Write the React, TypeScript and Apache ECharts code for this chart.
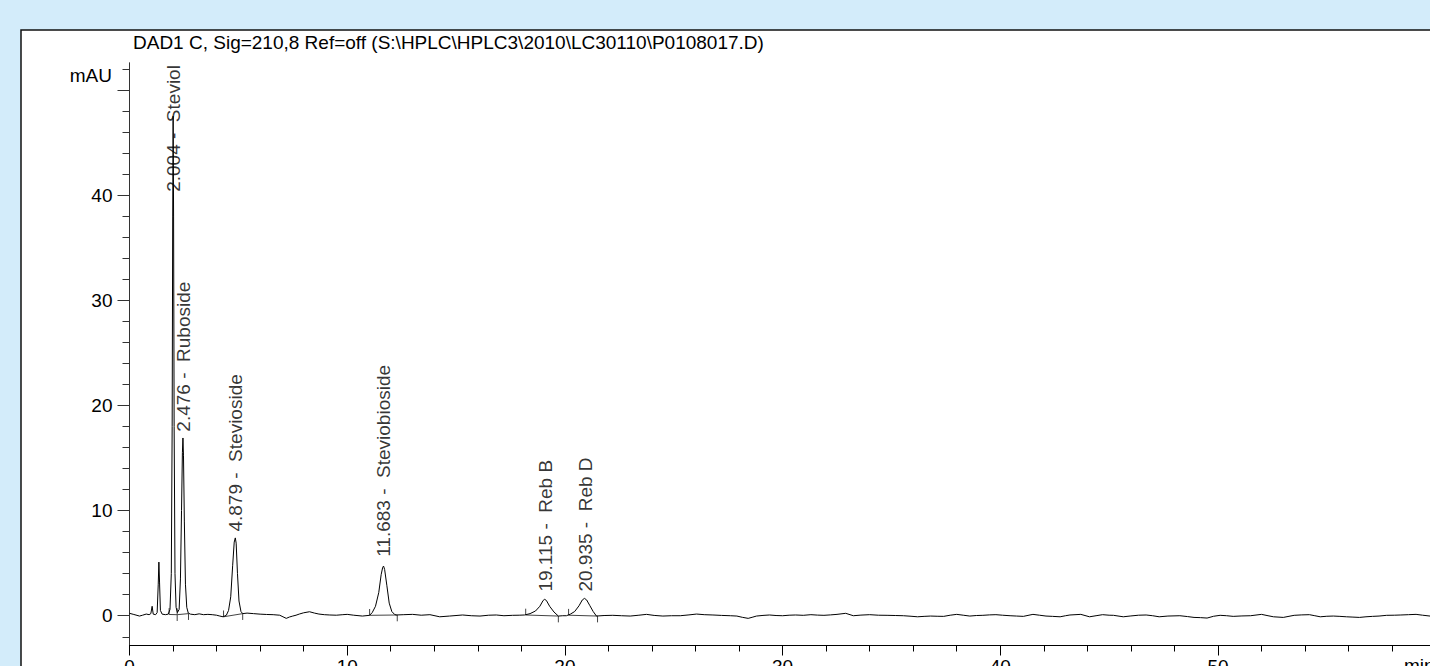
import React, { useEffect, useRef } from "react";
import * as echarts from "echarts";

// ---- Data (time in min, signal in mAU) ----
const earlySignal: [number, number][] = [
  [0, 0.23], [0.2, 0.12], [0.46, -0.03], [0.6, 0.05], [0.77, 0.16], [0.9, 0.1], [0.98, 0.2],
  [1.04, 0.9], [1.09, 0.15], [1.2, 0.1], [1.27, 0.3], [1.32, 3.0], [1.35, 5.1], [1.38, 3.2],
  [1.42, 0.5], [1.5, 0.15], [1.65, 0.1], [1.78, 0.15], [1.86, 0.6], [1.92, 4], [1.96, 18],
  [1.985, 38], [2.004, 47.5], [2.025, 38], [2.05, 18], [2.09, 4], [2.14, 0.8], [2.2, 0.3],
  [2.28, 0.6], [2.34, 3.5], [2.39, 10], [2.43, 15.5], [2.455, 16.9], [2.48, 15.2], [2.52, 9],
  [2.57, 3], [2.63, 0.8], [2.7, 0.25], [2.8, 0.15], [3.0, 0.1], [3.2, 0.18], [3.4, 0.1],
  [3.6, 0.13], [3.8, 0.1], [4.0, 0.05], [4.15, -0.03], [4.3, -0.1], [4.45, 0.05], [4.55, 0.5],
  [4.65, 1.8], [4.74, 4.8], [4.81, 7.0], [4.86, 7.4], [4.9, 6.9], [4.96, 4.0], [5.03, 1.4],
  [5.12, 0.4], [5.2, 0.2], [5.4, 0.25], [5.7, 0.2], [6.0, 0.15],
];

const midSignal: [number, number][] = [
  [6.3, 0.12], [6.6, 0.1], [6.9, 0.05], [7.05, -0.1], [7.2, -0.25], [7.35, -0.12], [7.5, -0.03],
  [7.65, 0.05], [7.8, 0.16], [8.0, 0.28], [8.27, 0.38], [8.5, 0.25], [8.7, 0.16], [8.95, 0.1],
  [9.2, 0.07], [9.5, 0.05], [9.8, 0.1], [10.0, 0.13], [10.3, 0.05], [10.7, -0.03], [11.03, 0.04],
  [11.15, 0.3], [11.3, 0.9], [11.45, 2.2], [11.56, 3.9], [11.63, 4.6], [11.67, 4.72], [11.72, 4.4],
  [11.82, 2.9], [11.93, 1.2], [12.05, 0.4], [12.18, 0.12], [12.25, 0.07], [12.6, 0.1], [13.0, 0.13],
  [13.4, 0.05], [13.8, 0.1], [14.25, -0.1], [14.7, -0.03], [15.3, 0.07], [15.7, 0.0], [16.1, -0.03],
  [16.5, 0.05], [16.85, 0.07], [17.2, 0.0], [17.6, 0.04], [17.9, 0.05], [18.15, 0.07], [18.4, 0.2],
  [18.65, 0.45], [18.85, 0.9], [19.0, 1.45], [19.07, 1.56], [19.15, 1.45], [19.3, 0.9], [19.5, 0.35],
  [19.7, -0.03], [19.9, 0.0], [20.07, 0.0], [20.25, 0.15], [20.45, 0.4], [20.65, 0.95], [20.8, 1.5],
  [20.9, 1.65], [21.0, 1.5], [21.15, 0.95], [21.3, 0.4], [21.45, -0.03], [21.8, 0.02], [22.2, 0.04],
  [22.6, 0.0], [23.0, -0.03], [23.4, 0.05], [23.75, 0.13], [24.1, 0.03], [24.5, -0.03], [24.9, 0.0],
  [25.3, 0.0], [25.7, 0.08], [26.05, 0.16], [26.4, 0.1], [26.8, 0.07], [27.2, 0.03], [27.6, 0.0],
];

const lateSignal: [number, number][] = [
  [27.9, -0.03], [28.15, -0.15], [28.42, -0.25], [28.6, -0.15], [28.8, -0.03], [29.1, 0.03],
  [29.4, 0.07], [29.7, 0.02], [30.0, 0.0], [30.3, 0.05], [30.6, 0.07], [30.95, 0.04], [31.3, 0.1],
  [31.6, 0.06], [31.9, 0.04], [32.2, 0.08], [32.5, 0.13], [32.9, 0.23], [33.25, 0.0], [33.6, 0.06],
  [34.0, 0.1], [34.4, 0.05], [34.8, 0.04], [35.2, 0.02], [35.55, 0.0], [35.9, -0.05], [36.2, -0.1],
  [36.5, -0.06], [36.8, -0.03], [37.1, -0.05], [37.4, -0.06], [37.7, 0.05], [38.0, 0.13], [38.3, 0.05],
  [38.6, -0.03], [38.9, 0.02], [39.2, 0.04], [39.5, 0.08], [39.8, 0.1], [40.1, 0.05], [40.45, 0.0],
  [40.75, -0.03], [41.06, -0.06], [41.5, 0.13], [41.8, 0.05], [42.1, -0.03], [42.4, -0.06],
  [42.75, -0.1], [43.0, 0.0], [43.2, 0.07], [43.7, 0.13], [44.1, -0.1], [44.4, 0.0], [44.7, 0.1],
  [45.0, 0.05], [45.2, 0.04], [45.65, -0.1], [46.0, -0.02], [46.35, 0.05], [46.7, 0.07], [47.0, 0.0],
  [47.3, -0.1], [47.7, -0.03], [48.25, 0.0], [48.6, -0.08], [48.9, -0.16], [49.2, -0.18], [49.5, -0.22],
  [49.8, -0.05], [50.1, 0.04], [50.4, 0.0], [50.7, -0.06], [51.1, -0.02], [51.5, 0.0], [52.0, 0.13],
  [52.3, 0.0], [52.55, -0.1], [53.0, -0.16], [53.5, 0.04], [53.85, 0.08], [54.2, 0.1], [54.45, 0.0],
  [54.7, -0.1], [55.0, -0.05], [55.3, -0.03], [55.6, -0.06], [55.9, -0.1], [56.2, -0.13], [56.5, -0.16],
  [56.8, -0.1], [57.1, -0.06], [57.4, -0.03], [57.75, 0.04], [58.1, 0.05], [58.4, 0.07], [58.75, 0.1],
  [59.1, 0.13], [59.4, 0.05], [59.74, -0.03],
];

// Integrated peaks
const peakRT = ["2.004", "2.476", "4.879", "11.683", "19.115", "20.935"];
const peakNames = ["Steviol", "Ruboside", "Stevioside", "Steviobioside", "Reb B", "Reb D"];
const labelBase = [40.3, 17.5, 8.0, 5.6, 2.3, 2.3];
const peakStart = [1.82, 2.19, 4.32, 11.03, 18.2, 20.17];
const peakEnd = [2.19, 2.71, 5.2, 12.3, 19.7, 21.5];
const startLevel = [0.12, 0.1, -0.1, 0.04, 0.07, 0.05];
const endLevel = [0.1, 0.2, 0.2, 0.07, -0.03, -0.03];

const yMajorTicks = [0, 10, 20, 30, 40, 50];
const yTickLabels = [0, 10, 20, 30, 40];
const yMinorTicks = [-2, 2, 4, 6, 8, 12, 14, 16, 18, 22, 24, 26, 28, 32, 34, 36, 38, 42, 44, 46, 48, 52];
const xMajorTicks = [0, 10, 20, 30, 40, 50];
const xMinorTicks = [2, 4, 6, 8, 12, 14, 16, 18, 22, 24, 26, 28, 32, 34, 36, 38, 42, 44, 46, 48, 52, 54, 56, 58];

const TITLE = "DAD1 C, Sig=210,8 Ref=off (S:\\HPLC\\HPLC3\\2010\\LC30110\\P0108017.D)";
const FONT = 'Arial, "Liberation Sans", sans-serif';
const FS = 19;

export default function App() {
  const ref = useRef<HTMLDivElement>(null);
  useEffect(() => {
    document.body.style.margin = "0";
    const chart = echarts.init(ref.current!, undefined, { renderer: "svg" });
    const Y_MIN = -2.83;
    const Y_MAX = 52.55;
    const X_MAX = 59.74;
    const signal = [...earlySignal, ...midSignal, ...lateSignal];
    const tick = 0.6;
    const baselineSeries = peakStart.map((s, i) => ({
      type: "line",
      xAxisIndex: 0,
      yAxisIndex: 0,
      symbol: "none",
      silent: true,
      z: 3,
      lineStyle: { color: "#444", width: 1 },
      data: [
        [s, startLevel[i] + tick],
        [s, startLevel[i]],
        [peakEnd[i], endLevel[i]],
        [peakEnd[i], endLevel[i] - tick],
      ],
    }));
    const commonY = {
      type: "value",
      min: Y_MIN,
      max: Y_MAX,
      position: "left",
      splitLine: { show: false },
      axisLine: { show: true, lineStyle: { color: "#333", width: 1 } },
    };
    const commonX = {
      type: "value",
      min: 0,
      max: X_MAX,
      position: "bottom",
      splitLine: { show: false },
      axisLine: { show: true, onZero: false, lineStyle: { color: "#000", width: 1 } },
    };
    chart.setOption({
      animation: false,
      backgroundColor: "#d3ecfa",
      textStyle: { fontFamily: FONT },
      grid: {
        left: 129.5,
        right: 0,
        top: 63,
        bottom: 20.5,
        containLabel: false,
        outerBoundsMode: "none",
      },
      xAxis: [
        {
          ...commonX,
          axisTick: { show: true, length: 10, customValues: xMajorTicks, lineStyle: { color: "#000" } },
          axisLabel: { show: true, customValues: xMajorTicks, margin: 11, fontSize: FS, color: "#000", fontFamily: FONT },
        },
        {
          ...commonX,
          axisTick: { show: true, length: 6, customValues: xMinorTicks, lineStyle: { color: "#000" } },
          axisLabel: { show: false },
        },
      ],
      yAxis: [
        {
          ...commonY,
          axisTick: { show: true, length: 12, customValues: yMajorTicks, lineStyle: { color: "#333" } },
          axisLabel: { show: true, customValues: yTickLabels, margin: 17, fontSize: FS, color: "#000", fontFamily: FONT },
        },
        {
          ...commonY,
          axisTick: { show: true, length: 7, customValues: yMinorTicks, lineStyle: { color: "#333" } },
          axisLabel: { show: false },
        },
      ],
      graphic: [
        {
          type: "rect",
          z: -10,
          silent: true,
          shape: { x: 21, y: 30, width: 1430, height: 700 },
          style: { fill: "#ffffff", stroke: "#111", lineWidth: 1.5 },
        },
        {
          type: "text",
          x: 133,
          y: 42,
          style: { text: TITLE, font: `${FS}px ${FONT}`, fill: "#000", verticalAlign: "middle", align: "left" },
        },
        {
          type: "text",
          x: 112,
          y: 75,
          style: { text: "mAU", font: `${FS}px ${FONT}`, fill: "#000", verticalAlign: "middle", align: "right" },
        },
        {
          type: "text",
          x: 1404,
          y: 656,
          style: { text: "min", font: `${FS}px ${FONT}`, fill: "#000", verticalAlign: "top", align: "left" },
        },
      ],
      series: [
        {
          type: "line",
          xAxisIndex: 0,
          yAxisIndex: 0,
          symbol: "none",
          silent: true,
          z: 4,
          lineStyle: { color: "#000", width: 1 },
          data: signal,
        },
        ...baselineSeries,
        {
          type: "scatter",
          xAxisIndex: 0,
          yAxisIndex: 0,
          symbolSize: 1,
          silent: true,
          z: 5,
          itemStyle: { color: "rgba(0,0,0,0)" },
          data: peakRT.map((rt, i) => ({
            value: [parseFloat(rt), labelBase[i]],
            label: {
              show: true,
              formatter: `${rt} -  ${peakNames[i]}`,
            },
          })),
          label: {
            show: true,
            position: "inside",
            rotate: 90,
            align: "left",
            verticalAlign: "middle",
            fontSize: FS,
            fontFamily: FONT,
            color: "#000",
          },
        },
      ],
    });
    return () => chart.dispose();
  }, []);
  return (
    <div
      ref={ref}
      style={{ position: "absolute", left: 0, top: 0, width: 1430, height: 666 }}
    />
  );
}
